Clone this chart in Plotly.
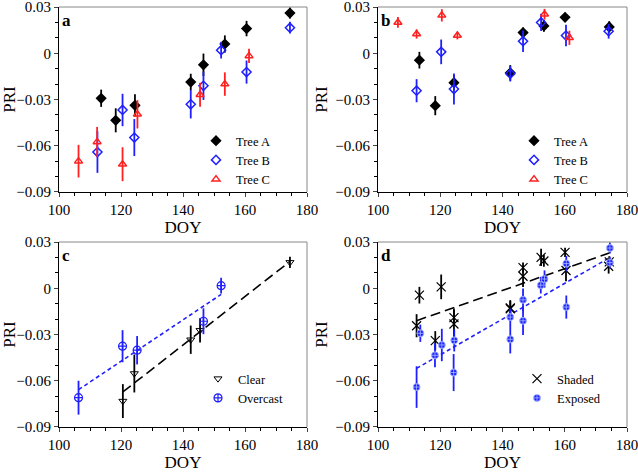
import numpy as np
import plotly.graph_objects as go

# ---------------- data ----------------
# Panel a
a_A_doy = [113.6, 118.3, 124.5, 142.5, 146.6, 153.5, 160.5, 174.5]
a_A_pri = [-0.0292, -0.0435, -0.0338, -0.0187, -0.0075, 0.006, 0.016, 0.0261]
a_A_err = [0.0056, 0.0078, 0.0072, 0.0054, 0.0073, 0.0056, 0.005, 0.0036]
a_B_doy = [112.4, 120.5, 124.3, 142.5, 146.6, 152.3, 160.5, 174.5]
a_B_pri = [-0.0641, -0.0368, -0.0547, -0.0331, -0.0211, 0.002, -0.0122, 0.0166]
a_B_err = [0.0135, 0.0105, 0.012, 0.0092, 0.0092, 0.0054, 0.0075, 0.0038]
a_C_doy = [106.3, 112.3, 120.5, 125.3, 145.5, 153.5, 161.3]
a_C_pri = [-0.070, -0.0575, -0.072, -0.0396, -0.0269, -0.020, -0.0017]
a_C_err = [0.0106, 0.0097, 0.011, 0.0092, 0.0078, 0.0076, 0.0046]

# Panel b
b_A_doy = [113.3, 118.4, 124.4, 142.5, 146.6, 153.3, 160.1, 174.3]
b_A_pri = [-0.0045, -0.034, -0.0191, -0.0127, 0.0134, 0.0177, 0.0233, 0.0171]
b_A_err = [0.0054, 0.0062, 0.005, 0.005, 0.0033, 0.0038, 0.003, 0.0037]
b_B_doy = [112.4, 120.3, 124.4, 142.5, 146.6, 152.4, 160.4, 174.1]
b_B_pri = [-0.0243, 0.0009, -0.0232, -0.0133, 0.0078, 0.020, 0.0115, 0.0143]
b_B_err = [0.0075, 0.008, 0.01, 0.005, 0.007, 0.0056, 0.007, 0.0048]
b_C_doy = [106.4, 112.4, 120.5, 125.5, 153.5, 161.5]
b_C_pri = [0.020, 0.0125, 0.0246, 0.0115, 0.0253, 0.010]
b_C_err = [0.0035, 0.003, 0.004, 0.0025, 0.0035, 0.0046]

# Panel c
clear_doy = [120.6, 124.3, 142.5, 145.5, 174.5]
clear_pri = [-0.0732, -0.0553, -0.0334, -0.0273, 0.0168]
clear_err = [0.011, 0.0123, 0.0092, 0.0079, 0.0036]
over_doy = [106.3, 120.5, 125.2, 146.6, 152.3]
over_pri = [-0.071, -0.0376, -0.0402, -0.0214, 0.0017]
over_err = [0.011, 0.0104, 0.0092, 0.0084, 0.0051]

# Panel d (shaded = panel b trees A+B, exposed = panel a trees A+B)
shaded_doy = b_A_doy + b_B_doy
shaded_pri = b_A_pri + b_B_pri
shaded_err = b_A_err + b_B_err
exposed_doy = a_A_doy + a_B_doy
exposed_pri = a_A_pri + a_B_pri
exposed_err = a_A_err + a_B_err

x_ticks = [100, 120, 140, 160, 180]
y_ticks = [-0.09, -0.06, -0.03, 0, 0.03]

FONT = "Liberation Serif"
W, H = 638, 475

fig = go.Figure()


def pts(x, y, err, color, symbol, size, name, xa, ya, legend, lw=1.5, lcolor=None):
    fig.add_trace(go.Scatter(
        x=x, y=y, mode="markers", name=name,
        error_y=dict(type="data", array=err, visible=True, color=color,
                     thickness=1.8, width=0),
        marker=dict(symbol=symbol, size=size, color=color,
                    line=dict(color=lcolor or color, width=lw)),
        xaxis=xa, yaxis=ya, legend=legend, showlegend=True))


def fit(x, y, color, dash, xa, ya):
    k, b = np.polyfit(x, y, 1)
    xs = np.array([min(x), max(x)])
    fig.add_trace(go.Scatter(x=xs, y=k * xs + b, mode="lines",
                             line=dict(color=color, width=1.6, dash=dash),
                             xaxis=xa, yaxis=ya, showlegend=False, hoverinfo="skip"))


BLUE = "#1f1fff"
RED = "#ff2020"

# panel a
pts(a_A_doy, a_A_pri, a_A_err, "black", "diamond", 7, "Tree A", "x", "y", "legend")
pts(a_B_doy, a_B_pri, a_B_err, BLUE, "diamond-open", 7, "Tree B", "x", "y", "legend")
pts(a_C_doy, a_C_pri, a_C_err, RED, "triangle-up-open", 7, "Tree C", "x", "y", "legend")
# panel b
pts(b_A_doy, b_A_pri, b_A_err, "black", "diamond", 7, "Tree A", "x2", "y2", "legend2")
pts(b_B_doy, b_B_pri, b_B_err, BLUE, "diamond-open", 7, "Tree B", "x2", "y2", "legend2")
pts(b_C_doy, b_C_pri, b_C_err, RED, "triangle-up-open", 7, "Tree C", "x2", "y2", "legend2")
# panel c
fit(clear_doy, clear_pri, "black", "10px,5px", "x3", "y3")
fit(over_doy, over_pri, BLUE, "4px,3px", "x3", "y3")
pts(clear_doy, clear_pri, clear_err, "black", "triangle-down-open", 7, "Clear", "x3", "y3", "legend3", lw=1)
pts(over_doy, over_pri, over_err, BLUE, "circle-cross-open", 8, "Overcast", "x3", "y3", "legend3", lw=1.2)
# panel d
fit(shaded_doy, shaded_pri, "black", "10px,5px", "x4", "y4")
fit(exposed_doy, exposed_pri, BLUE, "4px,3px", "x4", "y4")
pts(shaded_doy, shaded_pri, shaded_err, "black", "x-thin-open", 9, "Shaded", "x4", "y4", "legend4", lw=1.2)
pts(exposed_doy, exposed_pri, exposed_err, BLUE, "circle-cross", 7, "Exposed", "x4", "y4", "legend4", lw=0.8, lcolor="#aabfff")

# geometry (page pixels)
panels = {
    "a": dict(l=59, r=307, t=7, b=192),
    "b": dict(l=378, r=627, t=7, b=192),
    "c": dict(l=59, r=307, t=242, b=427),
    "d": dict(l=378, r=627, t=242, b=427),
}
axis_ids = {"a": ("xaxis", "yaxis", "x", "y"), "b": ("xaxis2", "yaxis2", "x2", "y2"),
            "c": ("xaxis3", "yaxis3", "x3", "y3"), "d": ("xaxis4", "yaxis4", "x4", "y4")}


def px_x(v):
    return min(1.0, max(0.0, v / W))


def px_y(v):
    return min(1.0, max(0.0, 1 - v / H))


layout = dict(width=W, height=H, margin=dict(l=0, r=0, t=0, b=0, autoexpand=False),
              paper_bgcolor="white", plot_bgcolor="white",
              font=dict(family=FONT, color="black", size=15), showlegend=True)
shapes = []
annotations = []
for key, g in panels.items():
    xk, yk, xr, yr = axis_ids[key]
    layout[xk] = dict(domain=[px_x(g["l"]), px_x(g["r"])], range=[100, 180], anchor=yr,
                      automargin=False, ticklabeloverflow="allow",
                      tickvals=x_ticks, ticks="outside", ticklen=4, tickwidth=1,
                      showline=True, linecolor="black", linewidth=1, showgrid=False,
                      zeroline=False, tickfont=dict(size=15, family=FONT),
                      minor=dict(dtick=5, ticks="outside", ticklen=3, tickcolor="black"),
                      title=dict(text="DOY", font=dict(size=17, family=FONT), standoff=4))
    layout[yk] = dict(domain=[px_y(g["b"]), px_y(g["t"])], range=[-0.09001, 0.03001], anchor=xr,
                      automargin=False, ticklabeloverflow="allow",
                      tickvals=y_ticks, ticks="outside", ticklen=4, tickwidth=1,
                      showline=True, linecolor="black", linewidth=1, showgrid=False,
                      zeroline=False, tickfont=dict(size=15, family=FONT),
                      minor=dict(dtick=0.01, ticks="outside", ticklen=3, tickcolor="black"),
                      title=dict(text="PRI", font=dict(size=17, family=FONT), standoff=3))
    # gray top/right frame
    shapes.append(dict(type="line", xref=f"{xr} domain", yref=f"{yr} domain",
                       x0=0, x1=1, y0=1, y1=1, line=dict(color="#888888", width=1)))
    shapes.append(dict(type="line", xref=f"{xr} domain", yref=f"{yr} domain",
                       x0=1, x1=1, y0=0, y1=1, line=dict(color="#888888", width=1)))
    annotations.append(dict(text=f"<b>{key}</b>", xref=f"{xr} domain", yref=f"{yr} domain",
                            x=0.005, y=0.99, xanchor="left", yanchor="top", showarrow=False,
                            font=dict(size=17, family=FONT)))

leg_common = dict(bgcolor="rgba(0,0,0,0)", borderwidth=0, font=dict(size=12.5, family=FONT),
                  xanchor="left", yanchor="top", tracegroupgap=0, itemclick=False)
layout["legend"] = dict(leg_common, x=px_x(196), y=px_y(126))
layout["legend2"] = dict(leg_common, x=px_x(514), y=px_y(126))
layout["legend3"] = dict(leg_common, x=px_x(198), y=px_y(364))
layout["legend4"] = dict(leg_common, x=px_x(517), y=px_y(364))
layout["shapes"] = shapes
layout["annotations"] = annotations

fig.update_layout(**layout)
fig.write_html("out.html", config={"displayModeBar": False},
               post_script="document.body.style.margin='0';document.body.style.overflow='hidden';")
